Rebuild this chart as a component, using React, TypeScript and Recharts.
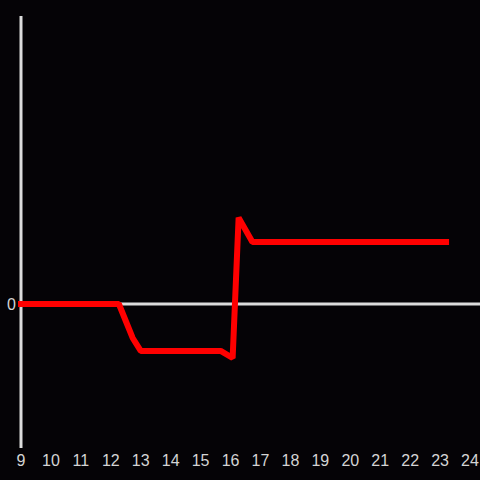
import React from "react"
import { LineChart, Line, XAxis, YAxis, ReferenceLine } from "recharts"

const xValues = [8.9, 12.27, 12.73, 13.0, 15.67, 16.07, 16.27, 16.73, 23.3]
const yValues = [0, 0, -0.236, -0.326, -0.326, -0.375, 0.6, 0.43, 0.43]
const xTicks = [9, 10, 11, 12, 13, 14, 15, 16, 17, 18, 19, 20, 21, 22, 23, 24]
const yTicks = [0]

const data = xValues.map((x, i) => ({ x, y: yValues[i] }))

const BG = "#050306"
const AXIS = "#dcdcdc"
const tickStyle = { fontSize: 16, fill: "#d4d4d4", fontFamily: "Liberation Sans, Arial, sans-serif" }

export default function App() {
  return (
    <div style={{ position: "absolute", left: 0, top: 0, width: 480, height: 480, background: BG }}>
      <LineChart width={480} height={480} data={data} margin={{ top: 16, right: 0, left: 0, bottom: 0 }}>
        <XAxis
          dataKey="x"
          type="number"
          domain={[9, 24 + 1 / 3]}
          ticks={xTicks}
          interval={0}
          height={32}
          axisLine={false}
          tickLine={false}
          tickSize={5}
          tick={tickStyle}
        />
        <YAxis
          type="number"
          domain={[-1, 2]}
          ticks={yTicks}
          width={18}
          axisLine={false}
          tickLine={false}
          tickSize={0}
          tickMargin={2}
          tick={tickStyle}
        />
        <ReferenceLine x={9} stroke={AXIS} strokeWidth={3} />
        <ReferenceLine y={0} stroke={AXIS} strokeWidth={3} />
        <Line
          dataKey="y"
          type="linear"
          stroke="#ff0000"
          strokeWidth={6}
          strokeLinejoin="bevel"
          dot={false}
          activeDot={false}
          isAnimationActive={false}
        />
      </LineChart>
    </div>
  )
}
